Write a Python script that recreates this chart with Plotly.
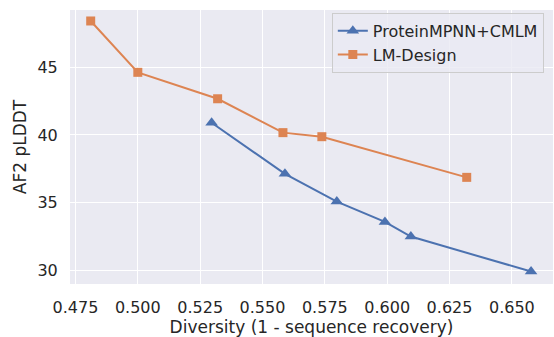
import plotly.graph_objects as go

x_cmlm = [0.5296, 0.559, 0.5798, 0.5991, 0.6095, 0.6577]
y_cmlm = [40.9, 37.13, 35.08, 33.58, 32.5, 29.92]
x_lmd = [0.4811, 0.500, 0.532, 0.5582, 0.5738, 0.6319]
y_lmd = [48.41, 44.62, 42.67, 40.17, 39.87, 36.87]
x_ticks = [0.475, 0.500, 0.525, 0.550, 0.575, 0.600, 0.625, 0.650]
x_ticklabels = ["0.475", "0.500", "0.525", "0.550", "0.575", "0.600", "0.625", "0.650"]
y_ticks = [30, 35, 40, 45]

blue = "#4C72B0"
orange = "#DD8452"
font = "DejaVu Sans"

fig = go.Figure()
fig.add_trace(go.Scatter(x=x_cmlm, y=y_cmlm, mode="lines+markers", name="ProteinMPNN+CMLM",
                         line=dict(color=blue, width=2),
                         marker=dict(symbol="triangle-up", size=11, color=blue)))
fig.add_trace(go.Scatter(x=x_lmd, y=y_lmd, mode="lines+markers", name="LM-Design",
                         line=dict(color=orange, width=2),
                         marker=dict(symbol="square", size=9, color=orange)))

fig.update_layout(
    width=554, height=337,
    margin=dict(l=70, r=1, t=10, b=53, autoexpand=False),
    paper_bgcolor="white", plot_bgcolor="#EAEAF2",
    font=dict(family=font, size=16, color="#262626"),
    legend=dict(x=0.981, y=0.99, xanchor="right", yanchor="top",
                bgcolor="rgba(234,234,242,0.8)", bordercolor="#CCCCCC", borderwidth=1,
                font=dict(size=16, color="#262626"), tracegroupgap=0, itemwidth=30),
    xaxis=dict(range=[0.4728, 0.6665], tickvals=x_ticks, ticktext=x_ticklabels,
               showgrid=True, gridcolor="white", gridwidth=1.2, zeroline=False,
               ticks="outside", ticklen=9, tickcolor="rgba(0,0,0,0)",
               tickfont=dict(size=16),
               showline=False, automargin=False,
               title=dict(text="Diversity (1 - sequence recovery)", standoff=4, font=dict(size=17))),
    yaxis=dict(range=[29.0, 49.22], tickvals=y_ticks,
               showgrid=True, gridcolor="white", gridwidth=1.2, zeroline=False,
               ticks="outside", ticklen=8, tickcolor="rgba(0,0,0,0)",
               tickfont=dict(size=16),
               showline=False, automargin=False,
               title=dict(text="AF2 pLDDT", standoff=6, font=dict(size=17))),
)

fig.write_html("out.html", config={"displayModeBar": False})
with open("out.html", encoding="utf-8") as f:
    html = f.read()
html = html.replace("<head>", "<head><style>html,body{margin:0;padding:0;overflow:hidden}</style>", 1)
with open("out.html", "w", encoding="utf-8") as f:
    f.write(html)
